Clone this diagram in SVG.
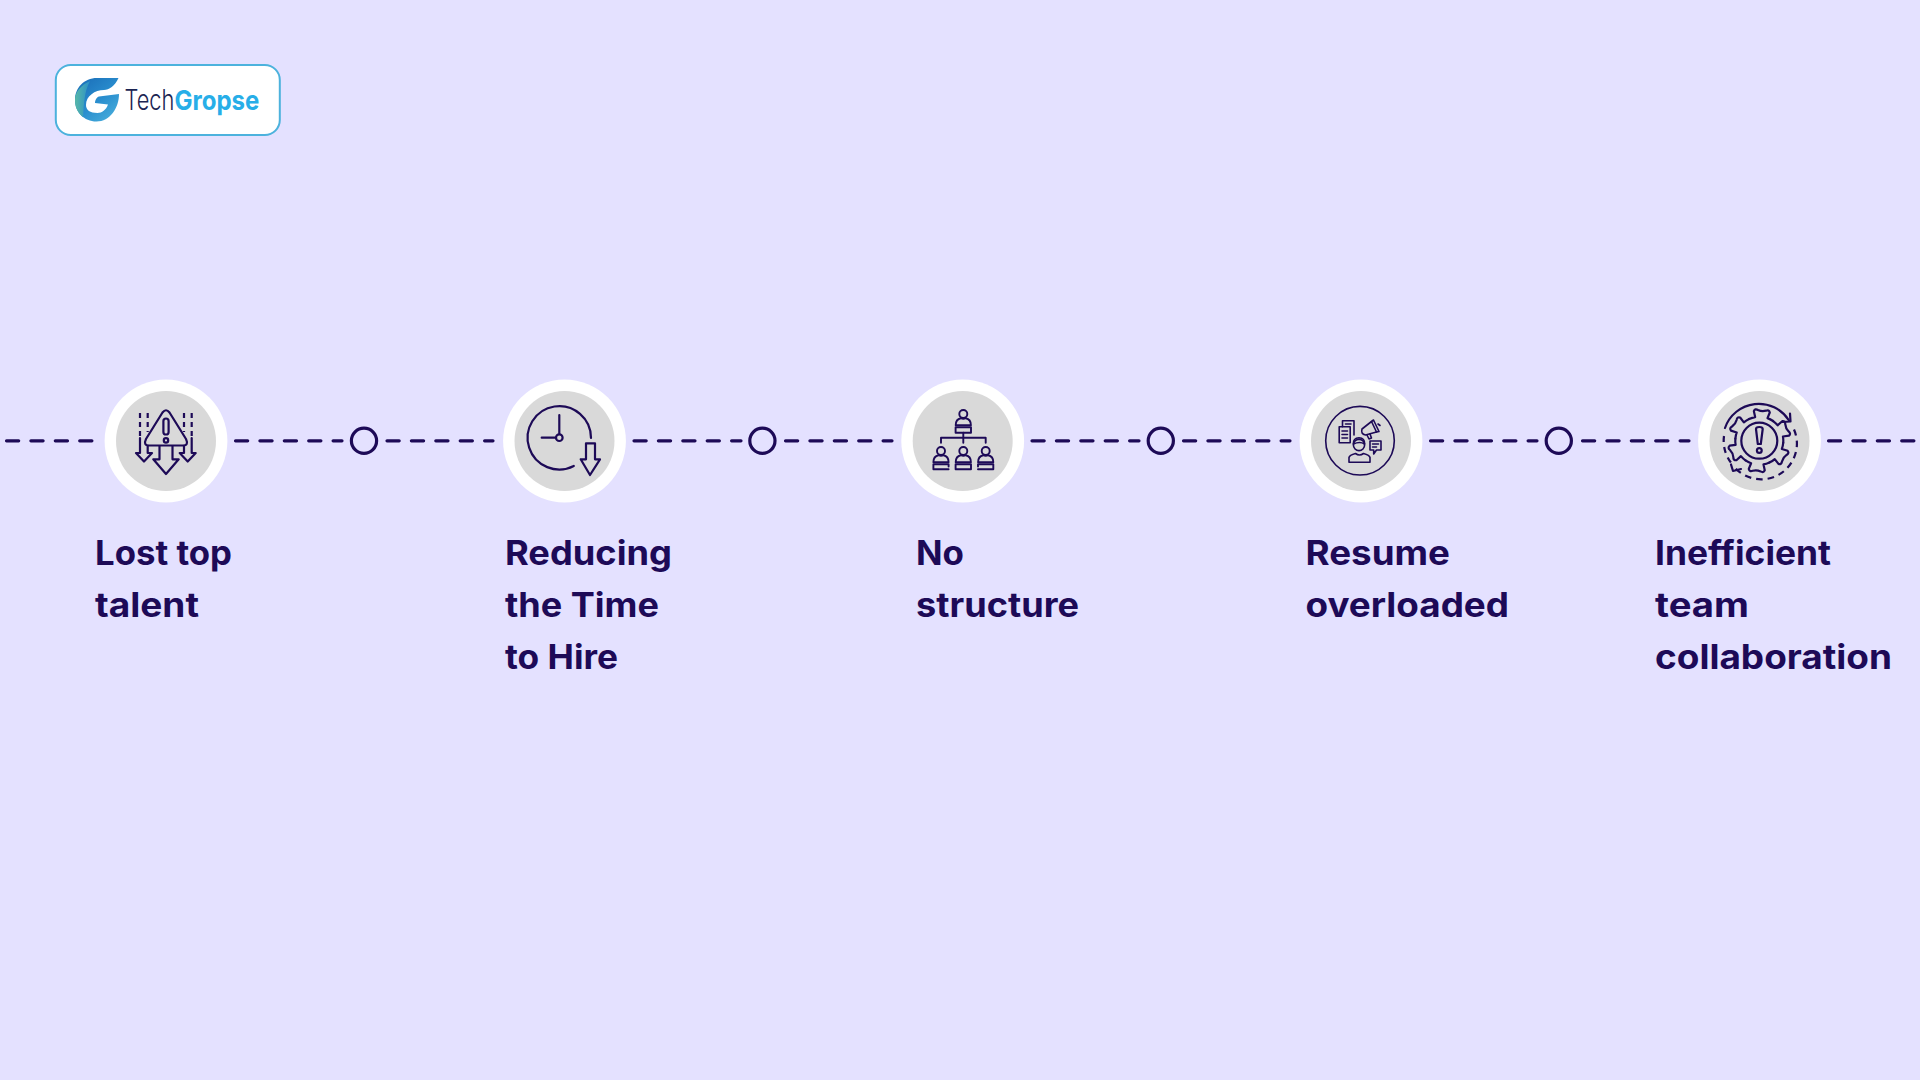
<svg xmlns="http://www.w3.org/2000/svg" xmlns:xlink="http://www.w3.org/1999/xlink" width="1920" height="1080" viewBox="0 0 1920 1080">
<style>
.halo{fill:#fff}
.disc{fill:#d9d9d9}
.ic{fill:none;stroke:#1d0a57;stroke-width:2.2;stroke-linejoin:round;stroke-linecap:round}
.thin{stroke-width:1.6}
.mid{stroke-width:1.9}
.dash{fill:none;stroke:#1d0a57;stroke-width:3.2;stroke-linecap:round;stroke-dasharray:12.2 12.2}
.dot{fill:none;stroke:#1d0a57;stroke-width:3.2}
.lbl{font-family:"Inter","Noto Sans",sans-serif;font-weight:650;font-size:33.5px;fill:#1d0a57}
</style>
<defs>
<linearGradient id="gG" x1="0.1" y1="0" x2="0.9" y2="1"><stop offset="0" stop-color="#1a6db8"/><stop offset="0.55" stop-color="#2a8fcf"/><stop offset="1" stop-color="#4bb0dc"/></linearGradient>
<linearGradient id="gT" x1="0" y1="0" x2="1" y2="0"><stop offset="0" stop-color="#58b8a8"/><stop offset="1" stop-color="#2a8fc8"/></linearGradient>
<path id="tooth" d="M-12 -20.8Q-9 -22.5 -6.2 -23.2L-8 -29Q-7 -32 -4 -30.5Q0 -29 4 -30.5Q7 -32 8 -29L6.2 -23.2Q9 -22.5 12 -20.8"/>
<g id="person">
<circle cx="0" cy="0" r="4"/>
<path d="M-7.6 11.2C-7.6 6.5 -4.5 4.6 -2.5 4.2Q0 5.4 2.5 4.2C4.5 4.6 7.6 6.5 7.6 11.2Z"/>
</g>
</defs>
<rect width="1920" height="1080" fill="#e4e1ff"/>
<g id="logo">
<rect x="55.8" y="65" width="224" height="70" rx="15" fill="#fff" stroke="#4cb2dd" stroke-width="2"/>
<path d="M118.5 78L97 78C84 78 75 88 75 100C75 112 84 121.5 96.5 121.5C110 121.5 119 108 119 94L99 96.5C97 97 95 100 95 103L108 104.5C106 110 102 113 97.5 113C90 113 86 110 86 105C86 96 95 90 104 90C109 90 115 86 118.5 78Z" fill="url(#gG)"/>
<path d="M90 81C81 85 75 92 75 100C75 108 78 113 83 117C84 105 84 92 90 81Z" fill="url(#gT)"/>
<text transform="translate(124.5 110) scale(0.78 1)" font-family="Inter,sans-serif" font-weight="300" font-size="28" fill="#1b2452">Tech</text>
<text transform="translate(174.5 110) scale(0.89 1)" font-family="Inter,sans-serif" font-weight="700" font-size="27" fill="#27aee8">Gropse</text>
</g>
<g id="connectors">
<line class="dash" x1="6.5" y1="440.8" x2="92" y2="440.8"/>
<line class="dash" x1="235.5" y1="440.8" x2="342" y2="440.8"/>
<line class="dash" x1="387" y1="440.8" x2="493" y2="440.8"/>
<line class="dash" x1="634" y1="440.8" x2="741" y2="440.8"/>
<line class="dash" x1="785.5" y1="440.8" x2="892" y2="440.8"/>
<line class="dash" x1="1032" y1="440.8" x2="1139" y2="440.8"/>
<line class="dash" x1="1183.5" y1="440.8" x2="1290" y2="440.8"/>
<line class="dash" x1="1430.5" y1="440.8" x2="1537" y2="440.8"/>
<line class="dash" x1="1582.5" y1="440.8" x2="1689" y2="440.8"/>
<line class="dash" x1="1828.5" y1="440.8" x2="1915" y2="440.8"/>
<circle class="dot" cx="364" cy="440.8" r="12.6"/>
<circle class="dot" cx="762.4" cy="440.8" r="12.6"/>
<circle class="dot" cx="1160.8" cy="440.8" r="12.6"/>
<circle class="dot" cx="1558.8" cy="440.8" r="12.6"/>
</g>
<g id="node-1">
<circle class="halo" cx="166" cy="441" r="61.4"/><circle class="disc" cx="166" cy="441" r="50"/>
<g class="ic">
<path d="M162.5 412.5Q166 408 169.5 412.5L186 439Q189 445.5 183 445.5L149 445.5Q143 445.5 146 439Z"/>
<rect x="163.4" y="418.5" width="5.2" height="16" rx="2.6"/>
<circle cx="166" cy="440.4" r="2.2"/>
<path d="M159.5 446V459.3H153.3L166 474L178.7 459.3H172.5V446"/>
<path d="M140 413V437" stroke-dasharray="5 4" stroke-linecap="butt"/>
<path d="M147.7 413V432" stroke-dasharray="5 4" stroke-linecap="butt"/>
<path d="M140 438V453H136L144 461.5L152 453H147.7V446"/>
<path d="M191.7 413V437" stroke-dasharray="5 4" stroke-linecap="butt"/>
<path d="M184 413V432" stroke-dasharray="5 4" stroke-linecap="butt"/>
<path d="M191.7 438V453H195.7L187.7 461.5L179.7 453H184V446"/>
</g>
<text class="lbl"><tspan x="95" y="565" textLength="137" lengthAdjust="spacingAndGlyphs">Lost top</tspan><tspan x="95" y="616.8" textLength="104" lengthAdjust="spacingAndGlyphs">talent</tspan></text>
</g>
<g id="node-2">
<circle class="halo" cx="564.5" cy="441" r="61.4"/><circle class="disc" cx="564.5" cy="441" r="50"/>
<g class="ic">
<path d="M591 438A31.7 31.7 0 1 0 573.8 466"/>
<path d="M559.3 415V434"/><path d="M541.7 437.7H556"/>
<circle cx="559.3" cy="437.7" r="3.3"/>
<path d="M586 443.3H595V459.3H600L590 475L580.7 459.3H586Z"/>
</g>
<text class="lbl"><tspan x="505" y="565" textLength="167" lengthAdjust="spacingAndGlyphs">Reducing</tspan><tspan x="505" y="616.8" textLength="154" lengthAdjust="spacingAndGlyphs">the Time</tspan><tspan x="505" y="668.8" textLength="113" lengthAdjust="spacingAndGlyphs">to Hire</tspan></text>
</g>
<g id="node-3">
<circle class="halo" cx="962.7" cy="441" r="61.4"/><circle class="disc" cx="962.7" cy="441" r="50"/>
<g class="ic mid">
<use xlink:href="#person" href="#person" x="963.3" y="414"/>
<rect x="955.6" y="427.3" width="15.4" height="5.4"/>
<path d="M963.3 432.7V442.7M941 442.7V437.7H985.7V442.7"/>
<use xlink:href="#person" href="#person" x="941" y="451"/>
<use xlink:href="#person" href="#person" x="963.3" y="451"/>
<use xlink:href="#person" href="#person" x="985.7" y="451"/>
<path d="M948.6 466.5V464.2H933.4V469.3H948.6"/>
<rect x="955.6" y="464.2" width="15.4" height="5.1"/>
<path d="M978 466.5V464.2H993.3V469.3H978"/>
</g>
<text class="lbl"><tspan x="916" y="565" textLength="48" lengthAdjust="spacingAndGlyphs">No</tspan><tspan x="916" y="616.8" textLength="163" lengthAdjust="spacingAndGlyphs">structure</tspan></text>
</g>
<g id="node-4">
<circle class="halo" cx="1361" cy="441" r="61.4"/><circle class="disc" cx="1361" cy="441" r="50"/>
<g class="ic thin">
<circle cx="1360" cy="440.7" r="34.3"/>
<path d="M1342.5 426.7V420.7H1354V435"/>
<rect x="1339.2" y="426.7" width="11" height="16"/>
<path d="M1342 431H1347.5M1342 434.5H1347.5M1342 438H1347.5M1345.5 424H1351"/>
<path d="M1362 429L1371.5 421.5L1376.5 432L1365.5 435Q1360.5 434 1362 429Z"/>
<path d="M1371.5 421.5L1373.5 420L1379 431.5L1376.5 432"/>
<path d="M1367 435L1369 439L1371.5 438L1370 434"/>
<path d="M1378 424L1380 425.5"/>
<path d="M1370 441H1381V450H1376.5L1373.7 454V450H1370Z"/>
<path d="M1372.5 444H1378.5M1372.5 447H1376.5"/>
<circle cx="1359" cy="445" r="5.6"/>
<path d="M1353.4 444Q1353 438 1359 437.8Q1365 438 1364.6 444Q1360 441 1353.4 444Z"/>
<path d="M1349 462.3V457.5Q1349.5 455 1355.5 453.5Q1359.5 456.5 1363.5 453.5Q1369.5 455 1370 457.5V462.3Z"/>
</g>
<text class="lbl"><tspan x="1305.5" y="565" textLength="144.5" lengthAdjust="spacingAndGlyphs">Resume</tspan><tspan x="1305.5" y="616.8" textLength="203.5" lengthAdjust="spacingAndGlyphs">overloaded</tspan></text>
</g>
<g id="node-5">
<circle class="halo" cx="1759.5" cy="441" r="61.4"/><circle class="disc" cx="1759.5" cy="441" r="50"/>
<g class="ic">
<path d="M1725 428A35.7 35.7 0 0 1 1789 420.5"/>
<path d="M1782 422L1790.5 421.5L1790 413.5"/>
<path d="M1794 429.5A35.7 35.7 0 0 1 1733 465.5" stroke-dasharray="6.5 5" stroke-linecap="butt"/>
<path d="M1724 436A35.7 35.7 0 0 0 1733 465" stroke-dasharray="6 5" stroke-linecap="butt"/>
<path d="M1731 464.5L1733 471L1741 469"/>
<circle cx="1759.3" cy="440.7" r="18"/>
<g transform="translate(1759.3 440.7)">
<use xlink:href="#tooth" href="#tooth" transform="rotate(5)"/>
<use xlink:href="#tooth" href="#tooth" transform="rotate(65)"/>
<use xlink:href="#tooth" href="#tooth" transform="rotate(125)"/>
<use xlink:href="#tooth" href="#tooth" transform="rotate(185)"/>
<use xlink:href="#tooth" href="#tooth" transform="rotate(245)"/>
<use xlink:href="#tooth" href="#tooth" transform="rotate(305)"/>
</g>
<path d="M1756 429Q1756 427 1759.3 427Q1762.7 427 1762.7 429L1760.8 444H1757.8Z"/>
<circle cx="1759.3" cy="450.5" r="2.4"/>
</g>
<text class="lbl"><tspan x="1655" y="565" textLength="176" lengthAdjust="spacingAndGlyphs">Inefficient</tspan><tspan x="1655" y="616.8" textLength="94" lengthAdjust="spacingAndGlyphs">team</tspan><tspan x="1655" y="668.8" textLength="237" lengthAdjust="spacingAndGlyphs">collaboration</tspan></text>
</g>
</svg>
